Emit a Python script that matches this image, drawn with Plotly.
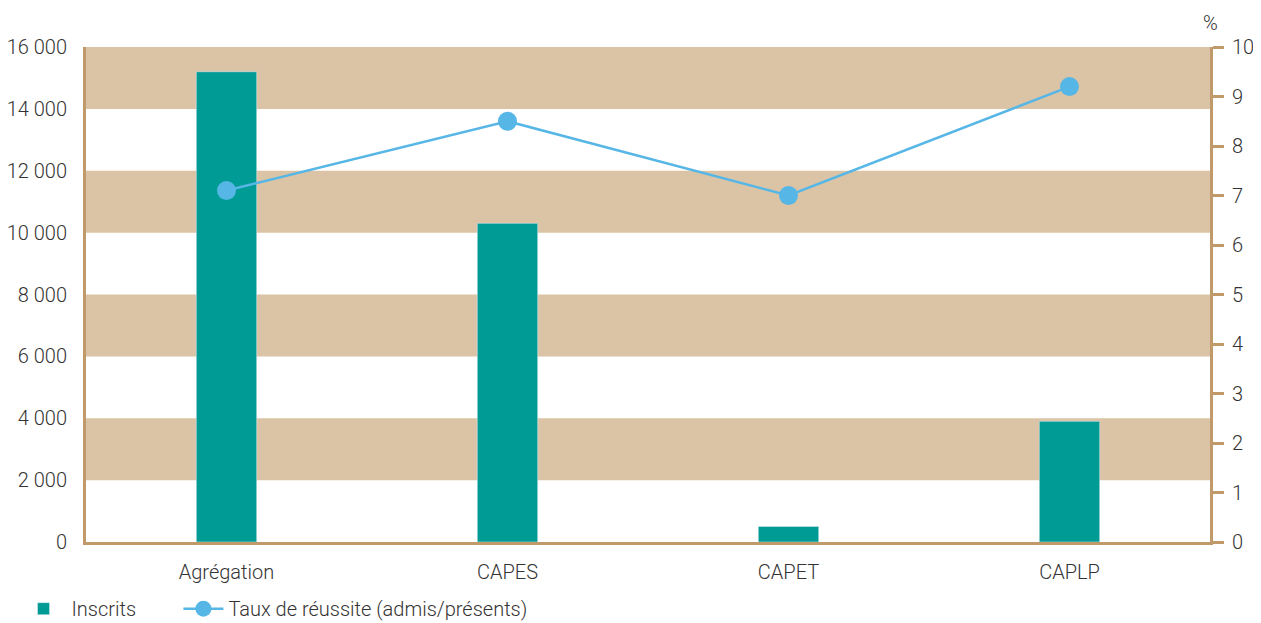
import plotly.graph_objects as go

categories = ["Agrégation", "CAPES", "CAPET", "CAPLP"]
inscrits = [15200, 10300, 500, 3900]
taux = [7.1, 8.5, 7.0, 9.2]
left_ticks = [0, 2000, 4000, 6000, 8000, 10000, 12000, 14000, 16000]
left_labels = ["0", "2 000", "4 000", "6 000", "8 000", "10 000", "12 000", "14 000", "16 000"]
right_ticks = list(range(0, 11))
band_ranges = [(2000, 4000), (6000, 8000), (10000, 12000), (14000, 16000)]

TEAL = "#009B94"
TAN = "#DBC4A5"
BLUE = "#56B6E6"
BROWN = "#C09A6B"
TXT = "#333333"
FONT = "Roboto, sans-serif"

fig = go.Figure()
fig.add_trace(go.Bar(x=categories, y=inscrits, name="Inscrits", marker_color=TEAL,
                     width=0.215, yaxis="y", legend="legend"))
fig.add_trace(go.Scatter(x=categories, y=taux, name="Taux de réussite (admis/présents)",
                         mode="lines+markers", yaxis="y2", legend="legend2",
                         line=dict(color=BLUE, width=2.5),
                         marker=dict(color=BLUE, size=19)))

shapes = []
for lo, hi in band_ranges:
    shapes.append(dict(type="rect", xref="paper", yref="y", x0=0, x1=1, y0=lo, y1=hi,
                       fillcolor=TAN, line=dict(width=0), layer="below"))

legend_common = dict(orientation="h", xref="container", yref="container",
                     y=0.055, xanchor="left", yanchor="top",
                     font=dict(size=20, color=TXT, weight=300))

# page body has an 8px default margin; compensate in size & margins
fig.update_layout(
    width=1253, height=615,
    margin=dict(l=78, r=51, t=39, b=81, autoexpand=False),
    plot_bgcolor="white", paper_bgcolor="white",
    font=dict(family=FONT, size=20, color=TXT, weight=300),
    shapes=shapes,
    showlegend=True,
    legend=dict(x=0.006, itemwidth=46, **legend_common),
    legend2=dict(x=0.136, itemwidth=40, **legend_common),
    xaxis=dict(showgrid=False, showline=True, linecolor=BROWN, linewidth=3,
               ticks="", ticklabelstandoff=10, automargin=False),
    yaxis=dict(range=[0, 16000], tickvals=left_ticks, ticktext=left_labels,
               showgrid=False, showline=True, linecolor=BROWN, linewidth=3,
               ticks="", zeroline=False, ticklabelstandoff=12, automargin=False),
    yaxis2=dict(range=[0, 10], tickvals=right_ticks, overlaying="y", side="right",
                showgrid=False, showline=True, linecolor=BROWN, linewidth=3,
                ticks="outside", ticklen=11, tickwidth=3, tickcolor=BROWN,
                zeroline=False, ticklabelstandoff=4, automargin=False),
    annotations=[dict(text="%", xref="paper", yref="paper", x=1.0, y=1.0, yshift=10,
                      xanchor="center", yanchor="bottom", showarrow=False,
                      font=dict(size=20, color=TXT, weight=300))],
)

fig.write_html("out.html")
